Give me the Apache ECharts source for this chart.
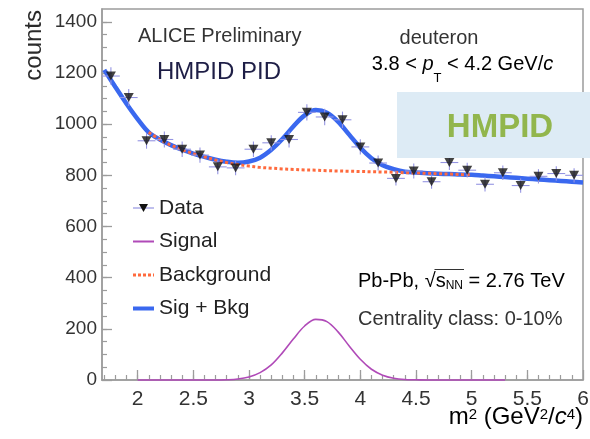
<!DOCTYPE html>
<html>
<head>
<meta charset="utf-8">
<script src="https://cdn.jsdelivr.net/npm/echarts@6/dist/echarts.min.js"></script>
<style>
  html, body { margin: 0; padding: 0; background: #ffffff; }
  #chart { width: 590px; height: 439px; }
</style>
</head>
<body>
<div id="chart"></div>
<script>
// Deuteron m^2 spectrum measured with the HMPID, fitted with signal + background.

// Histogram bins (bin centres, GeV^2/c^4) and their counts
const binCenters = [1.76, 1.92, 2.08, 2.24, 2.40, 2.56, 2.72, 2.88, 3.04, 3.20, 3.36, 3.52, 3.68, 3.84,
                    4.00, 4.16, 4.32, 4.48, 4.64, 4.80, 4.96, 5.12, 5.28, 5.44, 5.60, 5.76, 5.92];
const counts = [1188, 1104, 935, 940, 902, 879, 833, 829, 902, 927, 940, 1046, 1028, 1017,
                911, 848, 788, 817, 775, 850, 820, 765, 810, 760, 796, 807, 800];
const countErrors = [34, 33, 31, 31, 30, 30, 29, 29, 30, 30, 31, 32, 32, 32,
                     30, 29, 28, 29, 28, 29, 29, 28, 28, 28, 28, 28, 28];
const halfBinWidth = 0.08;

// Fit: signal + background
const totalX = [1.7, 1.8, 1.9, 2.0, 2.1, 2.2, 2.3, 2.4, 2.5, 2.6, 2.7, 2.8, 2.9, 3.0, 3.1, 3.2, 3.3, 3.4,
                3.5, 3.6, 3.7, 3.8, 3.9, 4.0, 4.1, 4.2, 4.3, 4.4, 4.5, 4.6, 4.7, 4.8, 4.9, 5.0, 5.1, 5.2,
                5.3, 5.4, 5.5, 5.6, 5.7, 5.8, 5.9, 6.0];
const totalY = [1212, 1145, 1080, 1020, 968, 940, 918, 900, 885, 872, 861, 853, 849, 854, 869, 900, 942, 992,
                1034, 1055, 1045, 1010, 959, 908, 867, 839, 824, 814, 811, 808, 806, 805, 803, 802, 799, 796,
                793, 790, 787, 784, 781, 778, 775, 772];

// Fit: background component
const bkgX = [2.1, 2.2, 2.3, 2.4, 2.5, 2.6, 2.7, 2.8, 2.9, 3.0, 3.1, 3.2, 3.3, 3.4, 3.5, 3.6, 3.7, 3.8,
              3.9, 4.0, 4.1, 4.2, 4.3, 4.4, 4.5, 4.6, 4.7, 4.8, 4.9, 5.0];
const bkgY = [968, 940, 918, 900, 885, 872, 860, 850, 842, 836, 831, 828, 825, 823, 821, 820, 818, 817,
              816, 815, 814, 813, 812, 810, 809, 808, 806, 805, 803, 802];

// Fit: signal component
const sigX = [2.0, 2.1, 2.2, 2.3, 2.4, 2.5, 2.6, 2.7, 2.8, 2.9, 3.0, 3.1, 3.2, 3.3, 3.4, 3.5, 3.6, 3.7,
              3.8, 3.9, 4.0, 4.1, 4.2, 4.3, 4.4, 4.5, 4.6, 4.7, 4.8, 4.9, 5.0, 5.1, 5.2, 5.3];
const sigY = [0, 0, 0, 0, 0, 0, 0, 0, 1, 4, 12, 29, 59, 106, 161, 211, 237, 228,
              188, 133, 81, 42, 19, 7, 2, 1, 0, 0, 0, 0, 0, 0, 0, 0];

// Axis ticks
const xMajorTicks = [2, 2.5, 3, 3.5, 4, 4.5, 5, 5.5, 6];
const xMinorTicks = [1.7, 1.8, 1.9, 2.0, 2.1, 2.2, 2.3, 2.4, 2.5, 2.6, 2.7, 2.8, 2.9, 3.0, 3.1, 3.2, 3.3,
                     3.4, 3.5, 3.6, 3.7, 3.8, 3.9, 4.0, 4.1, 4.2, 4.3, 4.4, 4.5, 4.6, 4.7, 4.8, 4.9, 5.0,
                     5.1, 5.2, 5.3, 5.4, 5.5, 5.6, 5.7, 5.8, 5.9];
const yMajorTicks = [0, 200, 400, 600, 800, 1000, 1200, 1400];
const yMinorTicks = [50, 100, 150, 200, 250, 300, 350, 400, 450, 500, 550, 600, 650, 700, 750, 800,
                     850, 900, 950, 1000, 1050, 1100, 1150, 1200, 1250, 1300, 1350, 1400];

const zip = (xs, ys) => xs.map((x, i) => [x, ys[i]]);

const FONT = '"Liberation Sans", Arial, Helvetica, sans-serif';
const AXIS_GREY = '#9c9c9c';
const TEXT = '#2b2b2b';

const COLORS = {
  total: '#3a68ef',
  bkg: '#ff6a3d',
  sig: '#b04ab8',
  err: '#9494e2',
  marker: '#111111'
};

function svgIcon(body) {
  const svg = "<svg xmlns='http://www.w3.org/2000/svg' width='21' height='14' viewBox='0 0 21 14'>" + body + "</svg>";
  return 'image://data:image/svg+xml;charset=utf-8,' + encodeURIComponent(svg);
}
const legendIcons = {
  'Data': svgIcon("<line x1='0' y1='7' x2='21' y2='7' stroke='" + COLORS.err + "' stroke-width='1.2'/>" +
                  "<polygon points='6,3 15,3 10.5,11' fill='" + COLORS.marker + "'/>"),
  'Signal': svgIcon("<line x1='0' y1='7' x2='21' y2='7' stroke='" + COLORS.sig + "' stroke-width='1.8'/>"),
  'Background': svgIcon("<line x1='0' y1='7' x2='21' y2='7' stroke='" + COLORS.bkg + "' stroke-width='3' stroke-dasharray='3 2'/>"),
  'Sig + Bkg': svgIcon("<line x1='0' y1='7' x2='21' y2='7' stroke='" + COLORS.total + "' stroke-width='4'/>")
};
const legendNames = ['Data', 'Signal', 'Background', 'Sig + Bkg'];

function xAxisBase(extra) {
  return Object.assign({
    type: 'value',
    min: 1.68,
    max: 6,
    position: 'bottom',
    splitLine: { show: false },
    axisLine: { show: false, onZero: false }
  }, extra);
}
function yAxisBase(extra) {
  return Object.assign({
    type: 'value',
    min: 0,
    max: 1450,
    position: 'left',
    splitLine: { show: false },
    axisLine: { show: false, onZero: false }
  }, extra);
}

const plainNumber = v => String(v);

const chart = echarts.init(document.getElementById('chart'), null, { renderer: 'canvas' });

const option = {
  animation: false,
  backgroundColor: '#ffffff',
  grid: {
    left: 102, right: 7, top: 9, bottom: 59,
    show: true,
    borderColor: AXIS_GREY,
    borderWidth: 1.5,
    outerBoundsMode: 'none'
  },
  xAxis: [
    xAxisBase({
      axisLine: { show: true, onZero: false, lineStyle: { color: AXIS_GREY, width: 1.5 } },
      axisTick: { show: true, inside: true, length: 10, customValues: xMajorTicks,
                  lineStyle: { color: AXIS_GREY, width: 1.3 } },
      axisLabel: { show: true, customValues: xMajorTicks, margin: 9, color: '#333333',
                   fontFamily: FONT, fontSize: 21, formatter: plainNumber }
    }),
    xAxisBase({
      axisTick: { show: true, inside: true, length: 5, customValues: xMinorTicks,
                  lineStyle: { color: AXIS_GREY, width: 1.2 } },
      axisLabel: { show: false }
    })
  ],
  yAxis: [
    yAxisBase({
      axisLine: { show: true, onZero: false, lineStyle: { color: AXIS_GREY, width: 1.5 } },
      axisTick: { show: true, inside: true, length: 10, customValues: yMajorTicks,
                  lineStyle: { color: AXIS_GREY, width: 1.3 } },
      axisLabel: { show: true, customValues: yMajorTicks, margin: 5, color: '#333333',
                   fontFamily: FONT, fontSize: 19, formatter: plainNumber }
    }),
    yAxisBase({
      axisTick: { show: true, inside: true, length: 5, customValues: yMinorTicks,
                  lineStyle: { color: AXIS_GREY, width: 1.2 } },
      axisLabel: { show: false }
    })
  ],
  legend: {
    orient: 'vertical',
    left: 133,
    top: 196,
    padding: 0,
    itemWidth: 21,
    itemHeight: 14,
    itemGap: 9.5,
    selectedMode: false,
    textStyle: { fontFamily: FONT, fontSize: 21, lineHeight: 24, color: '#222222' },
    data: legendNames.map(n => ({ name: n, icon: legendIcons[n] }))
  },
  series: [
    {
      type: 'line',
      name: 'Sig + Bkg',
      data: zip(totalX, totalY),
      smooth: 0.35,
      symbol: 'none',
      color: COLORS.total,
      lineStyle: { color: COLORS.total, width: 4.5 },
      z: 2
    },
    {
      type: 'line',
      name: 'Background',
      data: zip(bkgX, bkgY),
      smooth: 0.35,
      symbol: 'none',
      color: COLORS.bkg,
      lineStyle: { color: COLORS.bkg, width: 3, type: [3, 2.5] },
      z: 3
    },
    {
      type: 'line',
      name: 'Signal',
      data: zip(sigX, sigY),
      smooth: 0.35,
      symbol: 'none',
      clip: false,
      color: COLORS.sig,
      lineStyle: { color: COLORS.sig, width: 1.6 },
      z: 3
    },
    {
      type: 'custom',
      name: 'Data',
      data: binCenters.map((x, i) => [x, counts[i], countErrors[i]]),
      z: 4,
      renderItem: function (params, api) {
        const x = api.value(0), y = api.value(1), e = api.value(2);
        const l = api.coord([x - halfBinWidth, y]);
        const r = api.coord([x + halfBinWidth, y]);
        const t = api.coord([x, y + e]);
        const b = api.coord([x, y - e]);
        const st = { stroke: COLORS.err, lineWidth: 1.1 };
        return {
          type: 'group',
          children: [
            { type: 'line', shape: { x1: l[0], y1: l[1], x2: r[0], y2: r[1] }, style: st },
            { type: 'line', shape: { x1: t[0], y1: t[1], x2: b[0], y2: b[1] }, style: st }
          ]
        };
      }
    },
    {
      type: 'scatter',
      name: 'Data',
      data: zip(binCenters, counts),
      symbol: 'triangle',
      symbolRotate: 180,
      symbolSize: [10, 9],
      itemStyle: { color: COLORS.marker },
      z: 5
    }
  ],
  graphic: [
    {
      type: 'text', x: 34.6, y: 10, rotation: Math.PI / 2,
      style: { text: 'counts', align: 'right', verticalAlign: 'middle',
               font: '24px ' + FONT, fill: TEXT }
    },
    {
      type: 'text', x: 138, y: 36.4,
      style: { text: 'ALICE Preliminary', align: 'left', verticalAlign: 'middle',
               font: '20px ' + FONT, fill: '#333333' }
    },
    {
      type: 'text', x: 157, y: 72.7,
      style: { text: 'HMPID PID', align: 'left', verticalAlign: 'middle',
               font: '24px ' + FONT, fill: '#1e1e46' }
    },
    {
      type: 'text', x: 439, y: 38,
      style: { text: 'deuteron', align: 'center', verticalAlign: 'middle',
               font: '20px ' + FONT, fill: '#333333' }
    },
    {
      type: 'text', x: 462.5, y: 54.4,
      style: {
        text: '{t|3.8 < }{i|p}{sub|T}{t| < 4.2 GeV/}{i|c}',
        align: 'center', verticalAlign: 'top',
        rich: {
          t: { fontFamily: FONT, fontSize: 20, lineHeight: 24, verticalAlign: 'top', color: '#333333' },
          i: { fontFamily: FONT, fontSize: 20, lineHeight: 24, fontStyle: 'italic', verticalAlign: 'top', color: '#333333' },
          sub: { fontFamily: FONT, fontSize: 13, lineHeight: 13, verticalAlign: 'top', padding: [18, 0, 0, 0], color: '#333333' }
        }
      }
    },
    {
      type: 'rect', shape: { x: 397, y: 92, width: 193, height: 66 },
      style: { fill: '#ddebf5' }, z: 50
    },
    {
      type: 'text', x: 500, y: 128.4, z: 51,
      style: { text: 'HMPID', align: 'center', verticalAlign: 'middle',
               font: 'bold 33px ' + FONT, fill: '#92b64d' }
    },
    {
      type: 'text', x: 358, y: 271.1,
      style: {
        text: '{t|Pb-Pb, √}{t|s}{sub|NN}{t| = 2.76 TeV}',
        align: 'left', verticalAlign: 'top',
        rich: {
          t: { fontFamily: FONT, fontSize: 20, lineHeight: 24, verticalAlign: 'top', color: '#333333' },
          sub: { fontFamily: FONT, fontSize: 12, lineHeight: 12, verticalAlign: 'top', padding: [9, 0, 0, 0], color: '#333333' }
        }
      }
    },
    {
      type: 'line', shape: { x1: 434.5, y1: 269.5, x2: 464, y2: 269.5 },
      style: { stroke: '#333333', lineWidth: 1 }
    },
    {
      type: 'text', x: 358, y: 319.8,
      style: { text: 'Centrality class: 0-10%', align: 'left', verticalAlign: 'middle',
               font: '20px ' + FONT, fill: '#333333' }
    },
    {
      type: 'text', x: 583, y: 405,
      style: {
        text: '{t|m}{sup|2}{t| (GeV}{sup|2}{t|/}{i|c}{sup|4}{t|)}',
        align: 'right', verticalAlign: 'top',
        rich: {
          t: { fontFamily: FONT, fontSize: 24, lineHeight: 28, verticalAlign: 'top', color: '#333333' },
          i: { fontFamily: FONT, fontSize: 24, lineHeight: 28, fontStyle: 'italic', verticalAlign: 'top', color: '#333333' },
          sup: { fontFamily: FONT, fontSize: 15, lineHeight: 15, verticalAlign: 'top', padding: [2, 0, 0, 0], color: '#333333' }
        }
      }
    }
  ]
};

chart.setOption(option);
</script>
</body>
</html>
